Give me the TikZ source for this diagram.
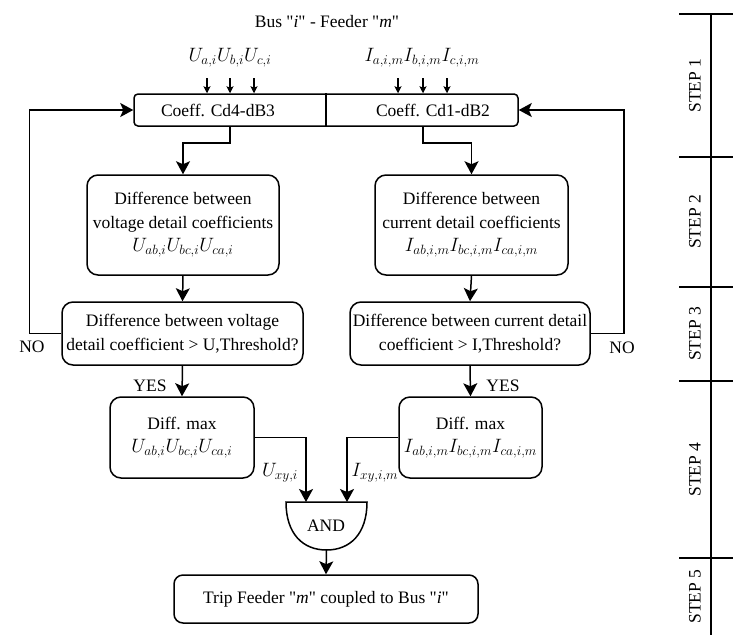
\documentclass[tikz,border=0pt]{standalone}
\usepackage{graphicx}
\usepackage{fontspec}
\setmainfont{Liberation Serif}
\usetikzlibrary{arrows.meta}
\newcommand\mth[1]{\scalebox{1.12}{$#1$}}
\newcommand\qq{\textquotedbl}
\begin{document}
\begin{tikzpicture}[x=1pt,y=-1pt,
  font=\fontsize{17.5}{23.5}\selectfont,
  box/.style={draw, rounded corners=11pt, line width=1.5pt, align=center, inner sep=0pt},
  arr/.style={line width=1.5pt, -{Stealth[length=13pt,width=14pt,inset=3pt]}},
  ln/.style={line width=1.5pt},
  sarr/.style={line width=1.1pt, -{Stealth[length=7pt,width=7pt,inset=1.5pt]}},
  stepbar/.style={line width=2.8pt},
  steplabel/.style={rotate=90, inner sep=0pt},
  ]
\useasboundingbox (0,0) rectangle (733,635);

% top labels
\node (title) at (327,22) {Bus \qq\textit{i}\qq{} - Feeder \qq\textit{m}\qq};
\node (uin) at (230,58) {\mth{U_{a,i}U_{b,i}U_{c,i}}};
\node (iin) at (422,58) {\mth{I_{a,i,m}I_{b,i,m}I_{c,i,m}}};

% coefficient box
\node[box, rounded corners=4pt, minimum width=384pt, minimum height=32pt] (coeff) at (326,110) {};
\draw[ln] (coeff.north) -- (coeff.south);
\node (cdl) at (218,110) {Coeff. Cd4-dB3};
\node (cdr) at (433,110) {Coeff. Cd1-dB2};
\coordinate (cLo) at (230,0);
\coordinate (cRo) at (423,0);

% small input arrows
\foreach \dx in {-23,0,24} {
  \draw[sarr] ([xshift=\dx pt]uin.center |- 0,78) -- ([xshift=\dx pt]uin.center |- coeff.north);
}
\foreach \dx in {-24,1,25} {
  \draw[sarr] ([xshift=\dx pt]iin.center |- 0,78) -- ([xshift=\dx pt]iin.center |- coeff.north);
}

% step 2
\node[box, minimum width=192pt, minimum height=100pt] (d2l) at (183,225)
  {Difference between\\voltage detail coefficients\\\mth{U_{ab,i}U_{bc,i}U_{ca,i}}};
\node[box, minimum width=193pt, minimum height=100pt] (d2r) at (471.5,225)
  {Difference between\\current detail coefficients\\\mth{I_{ab,i,m}I_{bc,i,m}I_{ca,i,m}}};

% step 3
\node[box, minimum width=241pt, minimum height=63pt] (d3l) at (182.5,333.5)
  {Difference between voltage\\detail coefficient {\textgreater} U,Threshold?};
\node[box, minimum width=240pt, minimum height=63pt] (d3r) at (470,333.5)
  {Difference between current detail\\coefficient {\textgreater} I,Threshold?};

% step 4
\node[box, minimum width=144pt, minimum height=81pt] (d4l) at (182,437.5)
  {Diff. max\\\mth{U_{ab,i}U_{bc,i}U_{ca,i}}};
\node[box, minimum width=143pt, minimum height=81pt] (d4r) at (470.5,437.5)
  {Diff. max\\\mth{I_{ab,i,m}I_{bc,i,m}I_{ca,i,m}}};

% AND gate
\draw[ln] (286,502) -- (367,502) .. controls (367,534) and (350,550) .. (326.5,550)
  .. controls (303,550) and (286,534) .. (286,502) -- cycle;
\node (and) at (326,526) {AND};
\coordinate (andL) at (306,502);
\coordinate (andR) at (347,502);
\coordinate (andB) at (326.5,550);

% step 5
\node[box, rounded corners=9pt, minimum width=304pt, minimum height=48pt] (trip) at (326,599)
  {Trip Feeder \qq\textit{m}\qq{} coupled to Bus \qq\textit{i}\qq};

% connectors
\draw[arr] (coeff.south -| cLo) -- ++(0,16) -| (d2l.north);
\draw[arr] (coeff.south -| cRo) -- ++(0,16) -| (d2r.north);
\draw[arr] (d2l.south) -- (d3l.north);
\draw[arr] (d2r.south) -- (d3r.north);
\draw[arr] (d3l.south) -- (d4l.north);
\draw[arr] (d3r.south) -- (d4r.north);
\draw[arr] (d3l.west) -- ++(-32,0) |- (coeff.west);
\draw[arr] (d3r.east) -- ++(33,0) |- (coeff.east);
\draw[arr] (d4l.east) -| (andL);
\draw[arr] (d4r.west) -| (andR);
\draw[arr] (andB) -- (trip.north);

% labels
\node (noL) at (32,347) {NO};
\node (noR) at (622,348) {NO};
\node (yesL) at (150,386) {YES};
\node (yesR) at (503,386) {YES};
\node (uxy) at (280,473) {\mth{U_{xy,i}}};
\node (ixy) at (375,473) {\mth{I_{xy,i,m}}};

% step bar
\draw[stepbar] (711,14) -- (711,635);
\foreach \y in {14,157,287,381,558} {
  \draw[stepbar] (679,\y) -- (733,\y);
}
\node[steplabel] (s1) at (695,85.5) {STEP 1};
\node[steplabel] (s2) at (695,222) {STEP 2};
\node[steplabel] (s3) at (695,334) {STEP 3};
\node[steplabel] (s4) at (695,469.5) {STEP 4};
\node[steplabel] (s5) at (695,596.5) {STEP 5};
\end{tikzpicture}
\end{document}
